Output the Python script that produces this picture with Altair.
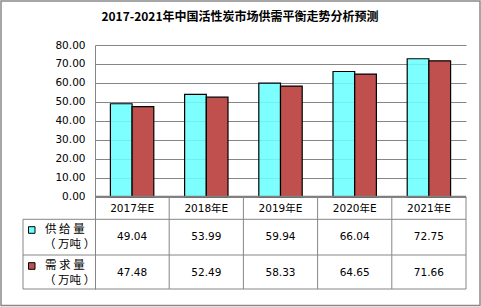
import altair as alt
import pandas as pd

years = ["2017年E", "2018年E", "2019年E", "2020年E", "2021年E"]
supply = [49.04, 53.99, 59.94, 66.04, 72.75]
demand = [47.48, 52.49, 58.33, 64.65, 71.66]
series_names = ["供给量", "需求量"]
series_labels = ["供 给 量", "需 求 量"]
unit_label = "（ 万吨 ）"
y_ticks = [0, 10, 20, 30, 40, 50, 60, 70, 80]
title_text = "2017-2021年中国活性炭市场供需平衡走势分析预测"
colors = ["#6CFFFF", "#C0504D"]

rows = []
for i, yr in enumerate(years):
    rows.append({"year": yr, "series": series_names[0], "value": supply[i], "label": f"{supply[i]:.2f}"})
    rows.append({"year": yr, "series": series_names[1], "value": demand[i], "label": f"{demand[i]:.2f}"})
df = pd.DataFrame(rows)
years_df = pd.DataFrame({"year": years})
one = pd.DataFrame({"a": [0]})

W, H = 371, 244
Y0 = 151.8  # pixel row of value 0 for the y domain below
FONT = "DejaVu Sans, Noto Sans CJK SC"
CJK = "Noto Sans CJK SC"
GRID = "#868686"

x_scale = alt.Scale(domain=years, paddingInner=0, paddingOuter=0)
y_scale = alt.Scale(domain=[-48.6, 80], nice=False, zero=False)


def xenc(**kw):
    return alt.X("year:N", scale=x_scale, sort=years, axis=None, **kw)


bars = alt.Chart(df).mark_bar(stroke="black", strokeWidth=1.2).encode(
    x=xenc(),
    xOffset=alt.XOffset("series:N", sort=series_names,
                        scale=alt.Scale(paddingOuter=0.71, paddingInner=0)),
    y=alt.Y("value:Q", scale=y_scale,
            axis=alt.Axis(values=y_ticks, format=".2f", grid=True, gridColor=GRID,
                          gridWidth=1, domainColor=GRID, domainWidth=1, ticks=False,
                          labelPadding=10, title=None, labelFont=FONT, labelOverlap=False,
                          labelFontSize=10.5, labelColor="black")),
    color=alt.Color("series:N", scale=alt.Scale(domain=series_names, range=colors), legend=None),
    fillOpacity=alt.FillOpacity("series:N", scale=alt.Scale(domain=series_names, range=[0.88, 1.0]),
                                legend=None),
)

zero_line = alt.Chart(one).mark_rule(color="#7f7f7f", strokeWidth=2).encode(
    y=alt.value(Y0), x=alt.value(0), x2=alt.value(W)
)


def hrule(yv, x0, x1):
    return alt.Chart(one).mark_rule(color=GRID, strokeWidth=1).encode(
        x=alt.value(x0), x2=alt.value(x1), y=alt.value(yv)
    )


def vrule(xv, y0, y1):
    return alt.Chart(one).mark_rule(color=GRID, strokeWidth=1).encode(
        x=alt.value(xv), y=alt.value(y0), y2=alt.value(y1)
    )


col_lines = alt.Chart(years_df).mark_rule(color=GRID, strokeWidth=1).encode(
    x=xenc(bandPosition=1), y=alt.value(Y0), y2=alt.value(H)
)

header = alt.Chart(years_df).mark_text(font=FONT, fontSize=10.5, color="black", baseline="middle").encode(
    x=xenc(), y=alt.value(164), text="year:N"
)

sup_text = alt.Chart(df[df.series == series_names[0]]).mark_text(
    font=FONT, fontSize=10.5, color="black", baseline="middle").encode(
    x=xenc(), y=alt.value(192), text="label:N")
dem_text = alt.Chart(df[df.series == series_names[1]]).mark_text(
    font=FONT, fontSize=10.5, color="black", baseline="middle").encode(
    x=xenc(), y=alt.value(228), text="label:N")

leg = []
for i, (lab, yc) in enumerate(zip(series_labels, [185, 221])):
    leg.append(alt.Chart(one).mark_rect(fill=colors[i], stroke="black", strokeWidth=1).encode(
        x=alt.value(-66.5), x2=alt.value(-60), y=alt.value(yc - 3.3), y2=alt.value(yc + 3.3)))
    leg.append(alt.Chart(one).mark_text(font=CJK, fontSize=11.5, color="black", align="left",
                                        baseline="middle").encode(
        x=alt.value(-50), y=alt.value(yc), text=alt.value(lab)))
    leg.append(alt.Chart(one).mark_text(font=CJK, fontSize=11.5, color="black", align="left",
                                        baseline="middle").encode(
        x=alt.value(-51), y=alt.value(yc + 14.5), text=alt.value(unit_label)))

title = alt.Chart(one).mark_text(font=CJK, fontSize=12, fontWeight="bold", color="black",
                                 baseline="middle", align="center").encode(
    x=alt.value(145), y=alt.value(-28), text=alt.value(title_text))

border = alt.Chart(one).mark_rect(filled=False, stroke="#898989", strokeWidth=1.5).encode(
    x=alt.value(-94), x2=alt.value(385), y=alt.value(-44), y2=alt.value(260.5))

chart = alt.layer(
    bars, zero_line, col_lines,
    hrule(174.3, -72, W), hrule(210, -72, W), hrule(H, -72, W), vrule(-72, 174.3, H),
    header, sup_text, dem_text, *leg, title, border
).properties(
    width=W, height=H,
    autosize=alt.AutoSizeParams(type="none"),
    padding={"left": 95, "top": 45, "right": 15, "bottom": 18},
    background="white",
).configure_view(stroke=None)

chart.save("out.html", embed_options={"renderer": "svg", "actions": False})
